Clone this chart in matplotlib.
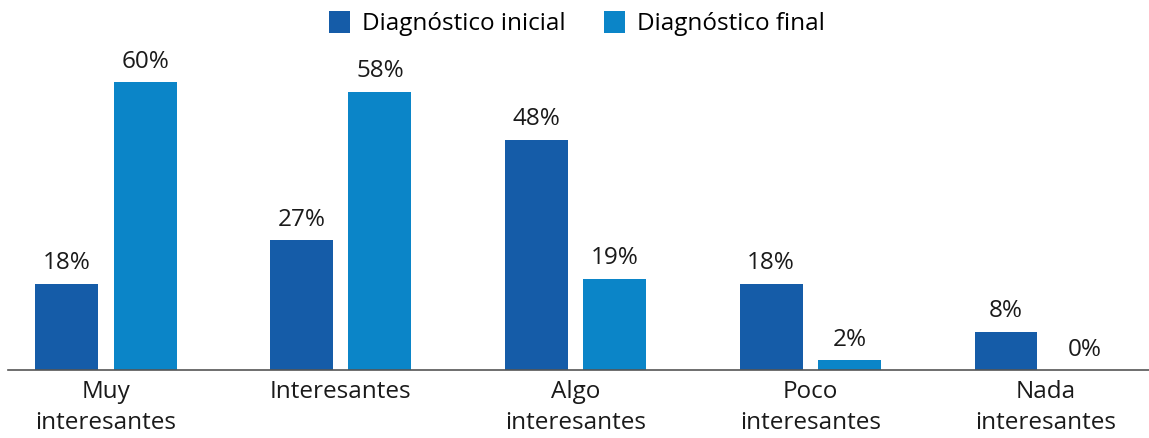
import matplotlib.pyplot as plt
import numpy as np

categories = ['Muy\ninteresantes', 'Interesantes', 'Algo\ninteresantes', 'Poco\ninteresantes', 'Nada\ninteresantes']
inicial = [18, 27, 48, 18, 8]
final = [60, 58, 19, 2, 0]
series_names = ['Diagnóstico inicial', 'Diagnóstico final']
colors = ['#155ca8', '#0b85c8']

plt.rcParams['font.family'] = ['Open Sans', 'DejaVu Sans']

fig = plt.figure(figsize=(11.49, 4.38), dpi=100)
ax = fig.add_axes([8 / 1149, 68 / 438, 1 - 8 / 1149, 370 / 438])

x = np.arange(len(categories))
w = 0.268
off = 0.167
b1 = ax.bar(x - off, inicial, w, color=colors[0], label=series_names[0])
b2 = ax.bar(x + off, final, w, color=colors[1], label=series_names[1])

for bars, vals in [(b1, inicial), (b2, final)]:
    for rect, v in zip(bars, vals):
        ax.annotate(f'{v}%', (rect.get_x() + rect.get_width() / 2, v),
                    xytext=(0, 6), textcoords='offset points',
                    ha='center', va='bottom', fontsize=17.5, color='#1a1a1a')

ax.set_xlim(-0.417, 4.442)
ax.set_ylim(0, 370 / 4.8)
ax.set_xticks(x)
ax.set_xticklabels(categories, fontsize=17.5, color='#1a1a1a', linespacing=1.38)
ax.tick_params(axis='x', length=0, pad=7)
ax.set_yticks([])
for s in ['top', 'right', 'left']:
    ax.spines[s].set_visible(False)
ax.spines['bottom'].set_color('#555555')
ax.spines['bottom'].set_linewidth(1.2)

ax.legend(loc='upper center', bbox_to_anchor=((577 - 8) / 1141, 1.01), ncol=2, frameon=False,
          fontsize=17.5, handlelength=0.85, handleheight=1.0, handletextpad=0.5,
          columnspacing=1.6, borderaxespad=0.2)

fig.savefig('out.png', dpi=100)
